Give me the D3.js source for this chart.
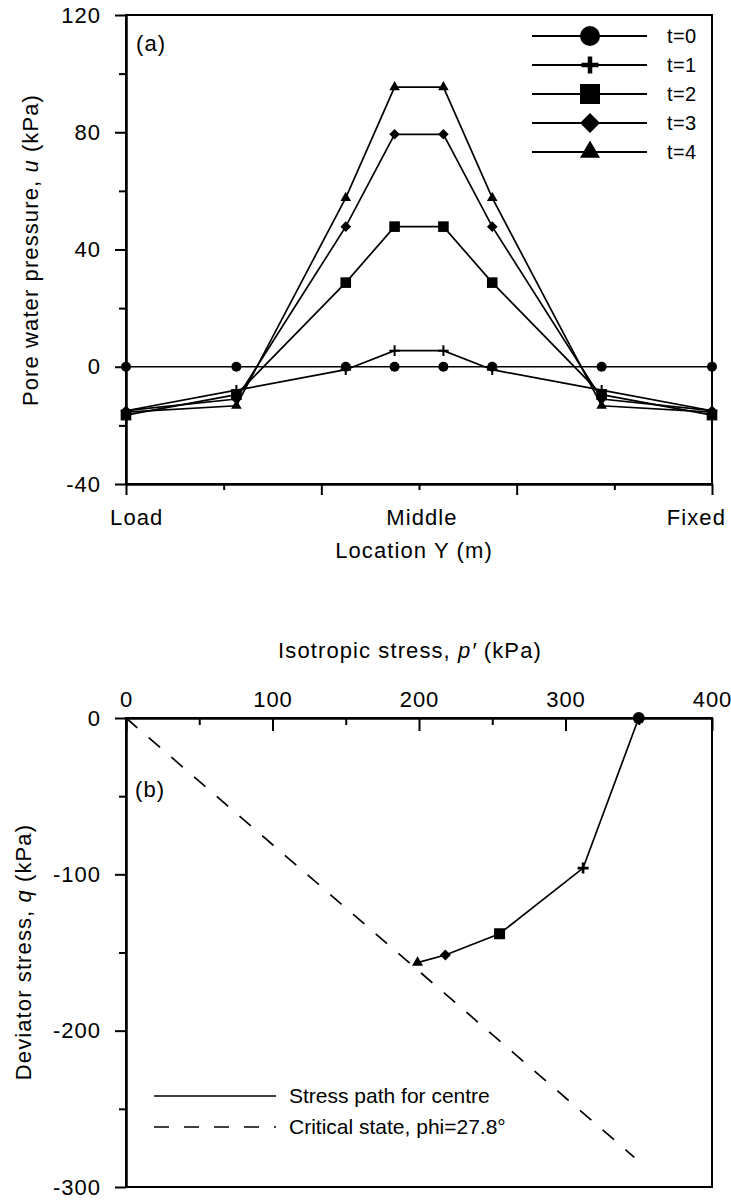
<!DOCTYPE html>
<html>
<head>
<meta charset="utf-8">
<script src="https://cdn.jsdelivr.net/npm/d3@7"></script>
<style>
body { margin: 0; background: #fff; }
svg text { font-family: "Liberation Sans", Arial, sans-serif; fill: #000; }
.axis path, .axis line { stroke: #000; stroke-width: 2; }
.axis text { font-size: 22px; letter-spacing: 1px; }
.title { font-size: 22px; letter-spacing: 1.1px; }
.legend { font-size: 20px; letter-spacing: 0.4px; }
</style>
</head>
<body>
<div id="chart"></div>
<script>

// ---- panel (a): pore water pressure along the sample ----
var locY = [0, 1.13, 2.25, 2.75, 3.25, 3.75, 4.87, 6];
var u_t0 = [0, 0, 0, 0, 0, 0, 0, 0];
var u_t1 = [-15, -8, -1, 5.5, 5.5, -1, -8, -15];
var u_t2 = [-16.5, -9.5, 28.7, 47.8, 47.8, 28.7, -9.5, -16.5];
var u_t3 = [-15, -11, 47.8, 79.3, 79.3, 47.8, -11, -15];
var u_t4 = [-15.5, -13.3, 57.6, 95.4, 95.4, 57.6, -13.3, -15.5];
var seriesNames = ["t=0", "t=1", "t=2", "t=3", "t=4"];
var markerTypes = ["circle", "plus", "square", "diamond", "triangle"];
var locLabels = ["Load", "Middle", "Fixed"];
var locLabelPos = [0.11, 3.03, 5.84];
var locMajor = [0, 2, 4, 6];
var locMinor = [1, 3, 5];
var uTicks = [-40, 0, 40, 80, 120];
var uMinor = [-20, 20, 60, 100];

// ---- panel (b): stress path at the centre ----
var pStress = [350, 312, 255, 218, 199];
var qStress = [0, -96, -138, -151.6, -156.5];
var cslP = [0, 347];
var cslQ = [0, -281];
var pTicks = [0, 100, 200, 300, 400];
var pMinor = [50, 150, 250, 350];
var qTicks = [0, -100, -200, -300];
var qMinor = [-50, -150, -250];

var W = 731, H = 1201;
var svg = d3.select("#chart").append("svg")
	.attr("width", W)
	.attr("height", H);
svg.append("rect").attr("width", W).attr("height", H).attr("fill", "#fff");

// plain hyphen for negatives, like the original
var plainFmt = function(d) { return String(d); };

// marker shapes, s = half size in px
function markerPath(type, s) {
	if (type == "circle") return d3.symbol(d3.symbolCircle, Math.PI * s * s)();
	if (type == "square") return d3.symbol(d3.symbolSquare, 4 * s * s)();
	if (type == "triangle") return d3.symbol(d3.symbolTriangle, Math.sqrt(3) * s * s)();
	if (type == "diamond") return "M0," + (-s) + "L" + s + ",0L0," + s + "L" + (-s) + ",0Z";
	if (type == "plus") return "M" + (-s) + ",0H" + s + "M0," + (-s) + "V" + s;
}
function drawMarker(g, type, x, y, s, plusWidth) {
	var m = g.append("path")
		.attr("d", markerPath(type, s))
		.attr("transform", "translate(" + x + "," + y + ")");
	if (type == "plus") m.attr("fill", "none").attr("stroke", "#000").attr("stroke-width", plusWidth);
	else m.attr("fill", "#000");
}

// ******* PANEL (a) *******
var xA = d3.scaleLinear().domain([0, 6]).range([126, 712]);
var yA = d3.scaleLinear().domain([-40, 120]).range([484, 15]);
var gA = svg.append("g");

gA.append("rect")
	.attr("x", xA(0)).attr("y", yA(120))
	.attr("width", xA(6) - xA(0)).attr("height", yA(-40) - yA(120))
	.attr("fill", "none").attr("stroke", "#000").attr("stroke-width", 2);

gA.append("g").attr("class", "axis")
	.attr("transform", "translate(" + xA(0) + ",0)")
	.call(d3.axisLeft(yA).tickValues(uTicks).tickSize(11).tickPadding(14).tickSizeOuter(0).tickFormat(plainFmt));
gA.append("g").attr("class", "axis")
	.attr("transform", "translate(" + xA(0) + ",0)")
	.call(d3.axisLeft(yA).tickValues(uMinor).tickSize(7).tickFormat("").tickSizeOuter(0));
gA.append("g").attr("class", "axis")
	.attr("transform", "translate(0," + yA(-40) + ")")
	.call(d3.axisBottom(xA).tickValues(locMajor).tickSize(11).tickFormat("").tickSizeOuter(0));
gA.append("g").attr("class", "axis")
	.attr("transform", "translate(0," + yA(-40) + ")")
	.call(d3.axisBottom(xA).tickValues(locMinor).tickSize(6).tickFormat("").tickSizeOuter(0));

gA.selectAll(".loclabel")
	.data(locLabels)
	.enter().append("text")
	.attr("class", "title")
	.attr("x", function(d, i) { return xA(locLabelPos[i]); })
	.attr("y", 525)
	.attr("text-anchor", "middle")
	.text(function(d) { return d; });

gA.append("text").attr("class", "title")
	.attr("x", 414).attr("y", 558)
	.attr("text-anchor", "middle")
	.text("Location Y (m)");

var yTitleA = gA.append("text").attr("class", "title")
	.attr("transform", "translate(38,250) rotate(-90)")
	.attr("text-anchor", "middle");
yTitleA.append("tspan").text("Pore water pressure, ");
yTitleA.append("tspan").style("font-style", "italic").text("u");
yTitleA.append("tspan").text(" (kPa)");

gA.append("text").attr("class", "title")
	.attr("x", 136).attr("y", 51)
	.text("(a)");

var series = [u_t0, u_t1, u_t2, u_t3, u_t4];
var lineA = d3.line()
	.x(function(d, i) { return xA(locY[i]); })
	.y(function(d) { return yA(d); });

series.forEach(function(vals, k) {
	gA.append("path")
		.attr("d", lineA(vals))
		.attr("fill", "none")
		.attr("stroke", "#000")
		.attr("stroke-width", 1.7);
	vals.forEach(function(v, i) {
		drawMarker(gA, markerTypes[k], xA(locY[i]), yA(v), k == 0 ? 5 : 5.3, 2);
	});
});

// legend (a)
seriesNames.forEach(function(name, k) {
	var ly = 36 + k * 29;
	gA.append("line")
		.attr("x1", 532).attr("x2", 647)
		.attr("y1", ly).attr("y2", ly)
		.attr("stroke", "#000").attr("stroke-width", 2);
	drawMarker(gA, markerTypes[k], 590, ly, markerTypes[k] == "plus" ? 8.5 : 10, 4.5);
	gA.append("text").attr("class", "legend")
		.attr("x", 667).attr("y", ly + 7)
		.text(name);
});

// ******* PANEL (b) *******
var xB = d3.scaleLinear().domain([0, 400]).range([126, 712]);
var yB = d3.scaleLinear().domain([-300, 0]).range([1187, 718]);
var gB = svg.append("g");

gB.append("rect")
	.attr("x", xB(0)).attr("y", yB(0))
	.attr("width", xB(400) - xB(0)).attr("height", yB(-300) - yB(0))
	.attr("fill", "none").attr("stroke", "#000").attr("stroke-width", 2);

gB.append("g").attr("class", "axis")
	.attr("transform", "translate(0," + yB(0) + ")")
	.call(d3.axisTop(xB).tickValues(pTicks).tickSize(-13).tickPadding(11).tickSizeOuter(0).tickFormat(plainFmt));
gB.append("g").attr("class", "axis")
	.attr("transform", "translate(0," + yB(0) + ")")
	.call(d3.axisTop(xB).tickValues(pMinor).tickSize(-7).tickFormat("").tickSizeOuter(0));
gB.append("g").attr("class", "axis")
	.attr("transform", "translate(" + xB(0) + ",0)")
	.call(d3.axisLeft(yB).tickValues(qTicks).tickSize(11).tickPadding(14).tickSizeOuter(0).tickFormat(plainFmt));
gB.append("g").attr("class", "axis")
	.attr("transform", "translate(" + xB(0) + ",0)")
	.call(d3.axisLeft(yB).tickValues(qMinor).tickSize(7).tickFormat("").tickSizeOuter(0));

var xTitleB = gB.append("text").attr("class", "title")
	.attr("x", 410).attr("y", 658)
	.attr("text-anchor", "middle");
xTitleB.append("tspan").text("Isotropic stress, ");
xTitleB.append("tspan").style("font-style", "italic").text("p\u2032");
xTitleB.append("tspan").text(" (kPa)");

var yTitleB = gB.append("text").attr("class", "title")
	.attr("transform", "translate(31,952) rotate(-90)")
	.attr("text-anchor", "middle");
yTitleB.append("tspan").text("Deviator stress, ");
yTitleB.append("tspan").style("font-style", "italic").text("q");
yTitleB.append("tspan").text(" (kPa)");

gB.append("text").attr("class", "title")
	.attr("x", 135).attr("y", 797)
	.text("(b)");

// critical state line
gB.append("path")
	.attr("d", d3.line()
		.x(function(d, i) { return xB(d); })
		.y(function(d, i) { return yB(cslQ[i]); })(cslP))
	.attr("fill", "none")
	.attr("stroke", "#000")
	.attr("stroke-width", 1.7)
	.attr("stroke-dasharray", "15,15");

// stress path
gB.append("path")
	.attr("d", d3.line()
		.x(function(d) { return xB(d); })
		.y(function(d, i) { return yB(qStress[i]); })(pStress))
	.attr("fill", "none")
	.attr("stroke", "#000")
	.attr("stroke-width", 1.7);
pStress.forEach(function(p, i) {
	drawMarker(gB, markerTypes[i], xB(p), yB(qStress[i]), markerTypes[i] == "circle" ? 6 : 5.5, 2.6);
});

// legend (b)
var legB = ["Stress path for centre", "Critical state, phi=27.8\u00b0"];
legB.forEach(function(name, k) {
	var ly = 1096 + k * 31;
	var l = gB.append("line")
		.attr("x1", 154).attr("x2", 276)
		.attr("y1", ly).attr("y2", ly)
		.attr("stroke", "#000").attr("stroke-width", 1.7);
	if (k == 1) l.attr("stroke-dasharray", "15,15");
	gB.append("text").attr("class", "legend")
		.attr("x", 289).attr("y", ly + 7)
		.style("letter-spacing", "0px")
		.style("font-size", "21px")
		.text(name);
});

</script>
</body>
</html>
